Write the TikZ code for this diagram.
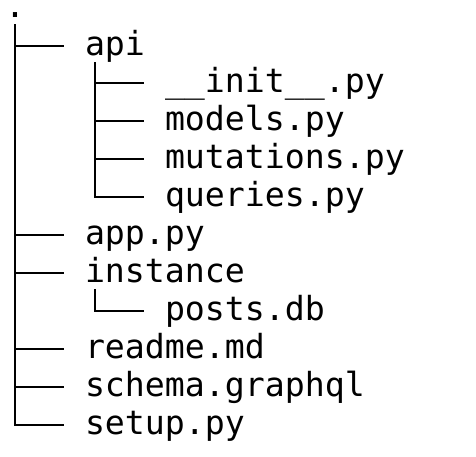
\documentclass[tikz,border=0pt]{standalone}
\usepackage{fontspec}
\setmonofont{DejaVu Sans Mono}
\usepackage{tikz}
\usetikzlibrary{positioning}

\begin{document}
\begin{tikzpicture}[
    x=0.5pt, y=-0.5pt,
    every node/.style={anchor=base west, inner sep=0pt, outer xsep=10.5pt, outer ysep=0pt,
        text height=13pt, text depth=3.5pt, font=\ttfamily\fontsize{16.6}{19}\selectfont},
    branch/.style={draw, line width=1pt}
]
    \useasboundingbox (0,0) rectangle (476,456);
    % top level
    \node[text height=4pt] (root) at (-16,17.1) {.};
    \node (api)       at (64,55)     {api};
    \node (init)      at (144,92.9)  {\_\_init\_\_.py};
    \node (models)    at (144,130.8) {models.py};
    \node (mutations) at (144,168.7) {mutations.py};
    \node (queries)   at (144,206.6) {queries.py};
    \node (app)       at (64,244.5)  {app.py};
    \node (instance)  at (64,282.4)  {instance};
    \node (posts)     at (144,320.3) {posts.db};
    \node (readme)    at (64,358.2)  {readme.md};
    \node (schema)    at (64,396.1)  {schema.graphql};
    \node (setup)     at (64,434)    {setup.py};

    \foreach \n in {api, app, instance, readme, schema, setup}
        \draw[branch] (root) |- (\n);
    \foreach \n in {init, models, mutations, queries}
        \draw[branch] ([xshift=15.5pt]api.south west) |- (\n);
    \draw[branch] ([xshift=15.5pt]instance.south west) |- (posts);
\end{tikzpicture}
\end{document}
